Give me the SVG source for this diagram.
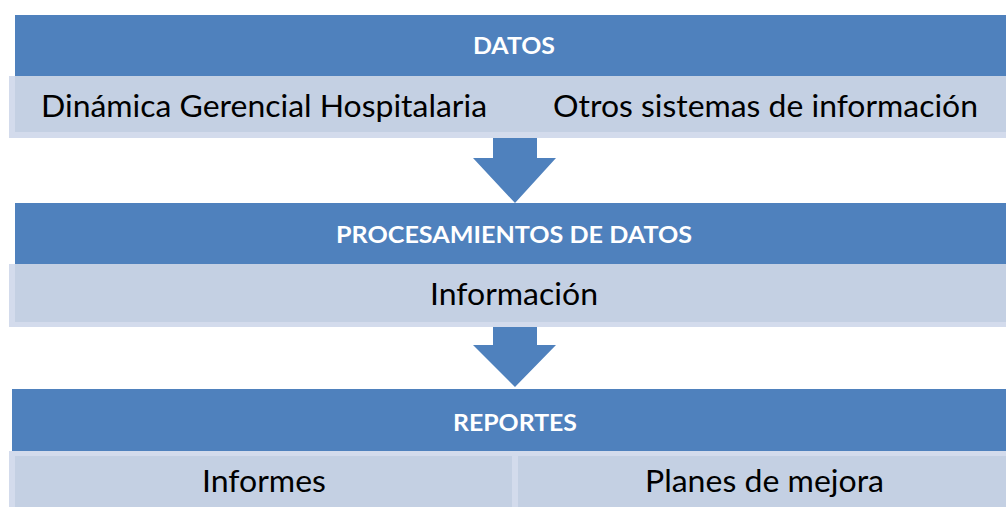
<svg xmlns="http://www.w3.org/2000/svg" width="1006" height="507" viewBox="0 0 1006 507">
<style>
.hdr{fill:#4F81BD}
.outer{fill:#D3DBEC}
.inner{fill:#C4D0E3}
.arrow{fill:#4F81BD}
.ht{font-family:Lato,"Open Sans","Liberation Sans",sans-serif;font-weight:bold;fill:#FFFFFF;font-size:23.5px}
.bt{font-family:Lato,"Open Sans","Liberation Sans",sans-serif;fill:#000000;font-size:30px}
</style>
<rect width="1006" height="507" fill="#FFFFFF"/>
<g id="connectors">
<polygon class="arrow" points="493,136 537,136 537,158 556,158 515,203 473,158 493,158"/>
<polygon class="arrow" points="493,325 537,325 537,345 556,345 515,387 473,345 493,345"/>
</g>
<g id="datos">
<rect class="hdr" x="15" y="15" width="991" height="61"/>
<text class="ht" x="514" y="54" text-anchor="middle" textLength="82" lengthAdjust="spacingAndGlyphs">DATOS</text>
</g>
<g id="fuentes">
<rect class="outer" x="9" y="76" width="997" height="62"/>
<rect class="inner" x="15" y="76" width="991" height="56"/>
<text class="bt" x="41" y="117" textLength="446" lengthAdjust="spacingAndGlyphs">Dinámica Gerencial Hospitalaria</text>
<text class="bt" x="553" y="117" textLength="425" lengthAdjust="spacingAndGlyphs">Otros sistemas de información</text>
</g>
<g id="procesamiento">
<rect class="hdr" x="15" y="203" width="991" height="61"/>
<text class="ht" x="514" y="243" text-anchor="middle" textLength="356" lengthAdjust="spacingAndGlyphs">PROCESAMIENTOS DE DATOS</text>
</g>
<g id="informacion">
<rect class="outer" x="9" y="264" width="997" height="63"/>
<rect class="inner" x="15" y="264" width="991" height="58"/>
<text class="bt" x="514" y="305" text-anchor="middle" textLength="168" lengthAdjust="spacingAndGlyphs">Información</text>
</g>
<g id="reportes">
<rect class="hdr" x="12" y="389" width="994" height="62"/>
<text class="ht" x="515" y="431" text-anchor="middle" textLength="124" lengthAdjust="spacingAndGlyphs">REPORTES</text>
</g>
<g id="salidas">
<rect class="outer" x="9" y="451" width="997" height="56"/>
<rect class="inner" x="15" y="456" width="497" height="51"/>
<rect class="inner" x="518" y="456" width="488" height="51"/>
<text class="bt" x="264" y="492" text-anchor="middle" textLength="124" lengthAdjust="spacingAndGlyphs">Informes</text>
<text class="bt" x="764.5" y="492" text-anchor="middle" textLength="239" lengthAdjust="spacingAndGlyphs">Planes de mejora</text>
</g>
</svg>
